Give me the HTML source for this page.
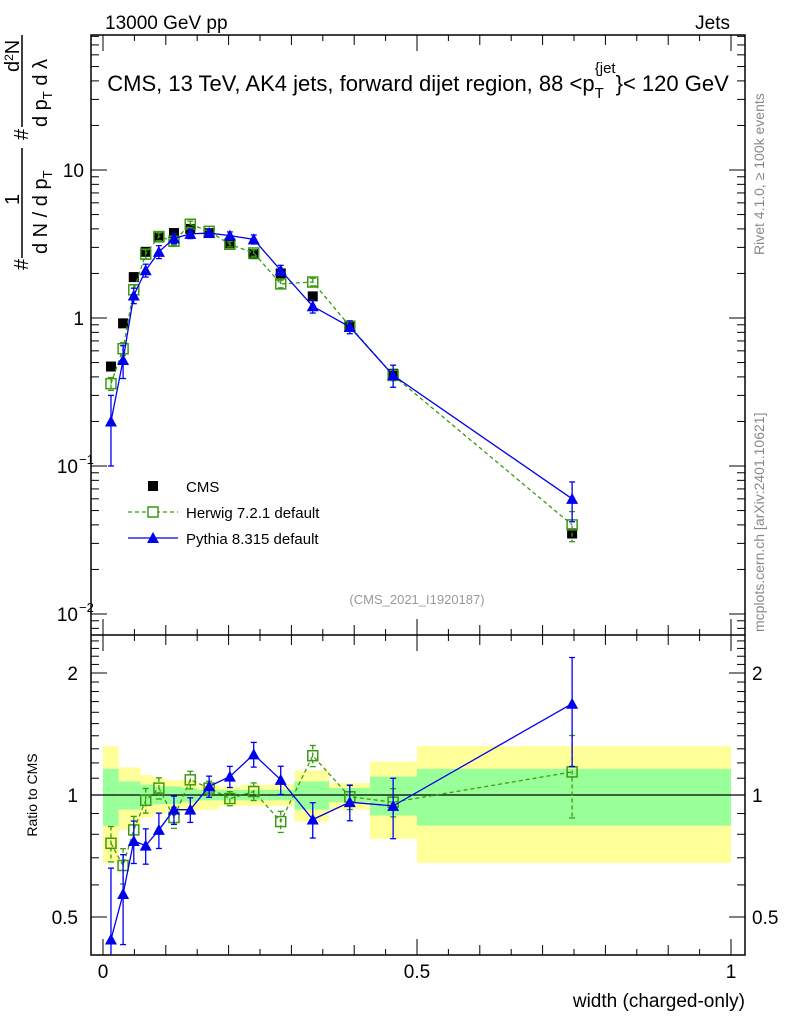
<!DOCTYPE html>
<html><head><meta charset="utf-8"><style>
body{margin:0;background:#fff}
svg{display:block;font-family:"Liberation Sans",sans-serif}
</style></head><body>
<svg id="c" width="786" height="1024" viewBox="0 0 786 1024" xmlns="http://www.w3.org/2000/svg">
<rect width="786" height="1024" fill="#fff"/>
<g id="bands"></g>
<g id="axes"></g>
<g id="marks"></g>
<text x="105" y="29" font-size="19">13000 GeV pp</text>
<text x="730" y="29" font-size="19" text-anchor="end">Jets</text>
<text x="418" y="91" font-size="22" text-anchor="middle">CMS, 13 TeV, AK4 jets, forward dijet region, 88 &lt;p<tspan font-size="15" dy="7">T</tspan><tspan font-size="15" dy="-25" dx="-9">{jet</tspan><tspan dy="18">}&lt; 120 GeV</tspan></text>
<text x="417" y="604" font-size="13" fill="#999" text-anchor="middle">(CMS_2021_I1920187)</text>
<text transform="translate(764,255) rotate(-90)" font-size="14" fill="#888">Rivet 4.1.0, ≥ 100k events</text>
<text transform="translate(764,632) rotate(-90)" font-size="14" fill="#888">mcplots.cern.ch [arXiv:2401.10621]</text>
<g font-size="20">
 <text transform="translate(28,270) rotate(-90)">#</text>
 <text transform="translate(19,205) rotate(-90)">1</text>
 <line x1="22" y1="148" x2="22" y2="258" stroke="#000" stroke-width="1.5"/>
 <text transform="translate(47,254) rotate(-90)">d N / d p<tspan font-size="13" dy="5">T</tspan></text>
 <text transform="translate(28,140) rotate(-90)">#</text>
 <text transform="translate(19,72) rotate(-90)">d<tspan font-size="12" dy="-6">2</tspan><tspan dy="6">N</tspan></text>
 <line x1="22" y1="35" x2="22" y2="127" stroke="#000" stroke-width="1.5"/>
 <text transform="translate(47,127) rotate(-90)">d p<tspan font-size="13" dy="5">T</tspan><tspan dy="-5"> d λ</tspan></text>
</g>
<text transform="translate(37,795) rotate(-90)" font-size="14" text-anchor="middle">Ratio to CMS</text>
<text x="745" y="1007" font-size="19" text-anchor="end">width (charged-only)</text>
<g font-size="15">
 <g><rect x="148" y="481" width="10" height="10" fill="#000"/><text x="186" y="492">CMS</text></g>
 <g><line x1="128" y1="512" x2="178" y2="512" stroke="#3a9a10" stroke-width="1.3" stroke-dasharray="4,3"/><rect x="148" y="507" width="10" height="10" fill="#fff" stroke="#3a9a10" stroke-width="1.5"/><text x="186" y="518">Herwig 7.2.1 default</text></g>
 <g><line x1="128" y1="538" x2="178" y2="538" stroke="#0000ee" stroke-width="1.3"/><path d="M147,543 L153,532 L159,543 Z" fill="#0000ee"/><text x="186" y="544">Pythia 8.315 default</text></g>
</g>
</svg>
<script>
const edges=[0,0.025,0.04,0.06,0.08,0.1,0.125,0.15,0.185,0.22,0.26,0.305,0.36,0.425,0.5,1.0];
const xPts=[0.0127,0.032,0.049,0.068,0.089,0.113,0.139,0.169,0.202,0.24,0.283,0.334,0.393,0.462,0.747];
const cms=[0.47,0.92,1.89,2.8,3.5,3.75,4.0,3.75,3.2,2.7,2.0,1.4,0.88,0.42,0.035];
const herwig=[0.36,0.62,1.55,2.7,3.55,3.3,4.3,3.85,3.15,2.75,1.7,1.75,0.88,0.41,0.040];
const pythia=[0.2,0.52,1.42,2.1,2.8,3.45,3.7,3.75,3.6,3.4,2.1,1.2,0.87,0.41,0.06];
const ratioH=[0.76,0.67,0.82,0.97,1.04,0.88,1.09,1.04,0.98,1.02,0.86,1.25,0.99,0.96,1.14];
const ratioP=[0.44,0.57,0.77,0.75,0.82,0.92,0.92,1.05,1.11,1.26,1.09,0.87,0.96,0.94,1.68];
const errH=[0.1,0.1,0.08,0.07,0.06,0.06,0.05,0.04,0.04,0.05,0.06,0.06,0.07,0.08,0.23];
const errP=[0.5,0.25,0.12,0.1,0.1,0.08,0.07,0.06,0.06,0.07,0.08,0.1,0.1,0.17,0.3];
const yellowHi=[1.32,1.17,1.17,1.12,1.1,1.09,1.09,1.06,1.05,1.06,1.06,1.15,1.07,1.21,1.32];
const yellowLo=[0.68,0.82,0.84,0.88,0.9,0.91,0.91,0.92,0.94,0.94,0.94,0.86,0.92,0.78,0.68];
const greenHi=[1.16,1.08,1.08,1.06,1.05,1.05,1.04,1.03,1.03,1.03,1.03,1.08,1.04,1.11,1.16];
const greenLo=[0.84,0.92,0.92,0.94,0.95,0.95,0.96,0.97,0.97,0.97,0.97,0.92,0.96,0.89,0.84];
const mainTickVals=[0.01,0.1,1,10];
const mainTickLabels=["10","10","1","10"];
const mainTickExp=["−2","−1","",""];
const ratioTickVals=[0.5,1,2];
const ratioTickLabels=["0.5","1","2"];
const xTickVals=[0,0.5,1];
const xTickLabels=["0","0.5","1"];

const L=91,R=745,T=35,M=635,B=955;
const X=v=>103+v*628;
const Y=v=>318-148*Math.log10(v);
const RY=v=>795-122*Math.log2(v);
const NS="http://www.w3.org/2000/svg";
function mk(p,t,a){const e=document.createElementNS(NS,t);for(const k in a)e.setAttribute(k,a[k]);p.appendChild(e);return e;}
const svg=document.getElementById('c');
const bands=document.getElementById('bands'),axes=document.getElementById('axes'),marks=document.getElementById('marks');
const clip=mk(svg,'clipPath',{id:'rc'});mk(clip,'rect',{x:L,y:M,width:R-L,height:B-M});
const clip2=mk(svg,'clipPath',{id:'mc'});mk(clip2,'rect',{x:L,y:T,width:R-L,height:M-T});
bands.setAttribute('clip-path','url(#rc)');
for(let i=0;i<15;i++){
 const x0=X(edges[i]),x1=X(edges[i+1]);
 const y=mk(bands,'rect',{x:x0,y:RY(yellowHi[i]),width:x1-x0,height:RY(yellowLo[i])-RY(yellowHi[i]),fill:'#ffff99'});
 
 
 const g=mk(bands,'rect',{x:x0,y:RY(greenHi[i]),width:x1-x0,height:RY(greenLo[i])-RY(greenHi[i]),fill:'#99ff99'});
 
 
}
mk(axes,'line',{x1:L,y1:RY(1),x2:R,y2:RY(1),stroke:'#000','stroke-width':1.3});
mk(axes,'rect',{x:L,y:T,width:R-L,height:B-T,fill:'none',stroke:'#000','stroke-width':1.5});
mk(axes,'line',{x1:L,y1:M,x2:R,y2:M,stroke:'#000','stroke-width':1.5});
for(let d=-3;d<=1;d++)for(let k=1;k<10;k++){const v=k*Math.pow(10,d),y=Y(v);if(y<T||y>M)continue;const len=k==1?16:8;
 mk(axes,'line',{x1:L,y1:y,x2:L+len,y2:y,stroke:'#000'});mk(axes,'line',{x1:R,y1:y,x2:R-len,y2:y,stroke:'#000'});}
mainTickVals.forEach((v,i)=>{const t=mk(axes,'text',{x:mainTickExp[i]?78:84,y:Y(v)+7,'font-size':19,'text-anchor':'end'});t.textContent=mainTickLabels[i];
 if(mainTickExp[i]){const s=mk(axes,'text',{x:79,y:Y(v)-2,'font-size':13});s.textContent=mainTickExp[i];}
 
 });
[0.4,0.5,0.6,0.7,0.8,0.9,1,1.1,1.2,1.3,1.4,1.5,1.6,1.7,1.8,1.9,2,2.1,2.2,2.3,2.4].forEach(v=>{const y=RY(v);if(y<M||y>B)return;const len=(v==0.5||v==1||v==2)?16:8;
 mk(axes,'line',{x1:L,y1:y,x2:L+len,y2:y,stroke:'#000'});mk(axes,'line',{x1:R,y1:y,x2:R-len,y2:y,stroke:'#000'});});
ratioTickVals.forEach((v,i)=>{const t=mk(axes,'text',{x:78,y:RY(v)+7,'font-size':19,'text-anchor':'end'});t.textContent=ratioTickLabels[i];
 
 
 const t2=mk(axes,'text',{x:752,y:RY(v)+7,'font-size':19});t2.textContent=ratioTickLabels[i];
 
 });
for(let k=0;k<=20;k++){const v=k*0.05,x=X(v);if(x>R)continue;const len=k%10==0?16:(k%2==0?10:6);
 [[B,-1],[M,-1],[M,1],[T,1]].forEach(([y0,s])=>mk(axes,'line',{x1:x,y1:y0,x2:x,y2:y0+s*len,stroke:'#000'}));}
xTickVals.forEach((v,i)=>{const t=mk(axes,'text',{x:X(v),y:978,'font-size':19,'text-anchor':'middle'});t.textContent=xTickLabels[i];
 
 });
function series(vals,err,color,dash,shape,Yf,name,clipId,cmsMode){
 const g=mk(marks,'g',{'clip-path':'url(#'+clipId+')'});
 
 
 if(!cmsMode){
  mk(g,'polyline',{points:vals.map((v,i)=>X(xPts[i])+','+Yf(v)).join(' '),fill:'none',stroke:color,'stroke-width':1.3,'stroke-dasharray':dash});
 }
 vals.forEach((v,i)=>{const x=X(xPts[i]),y=Yf(v);
  if(err){const hi=Yf(v*(1+err[i])),lo=Yf(Math.max(v*(1-err[i]),1e-9));
   mk(g,'line',{x1:x,y1:hi,x2:x,y2:lo,stroke:color,'stroke-width':1.3,'stroke-dasharray':dash});
   mk(g,'line',{x1:x-3,y1:hi,x2:x+3,y2:hi,stroke:color,'stroke-width':1.3});mk(g,'line',{x1:x-3,y1:lo,x2:x+3,y2:lo,stroke:color,'stroke-width':1.3});}
  let m;
  if(shape=='fill')m=mk(g,'rect',{x:x-5,y:y-5,width:10,height:10,fill:'#000'});
  else if(shape=='open')m=mk(g,'rect',{x:x-5,y:y-5,width:10,height:10,fill:'none',stroke:color,'stroke-width':1.5});
  else m=mk(g,'path',{d:'M'+(x-6)+','+(y+5)+' L'+x+','+(y-6)+' L'+(x+6)+','+(y+5)+' Z',fill:color});
  
  
 });
}
series(cms,null,'#000','','fill',Y,'cms-data','mc',true);
series(herwig,errH,'#3a9a10','4,3','open',Y,'herwig-main','mc');
series(pythia,errP,'#0000ee','','tri',Y,'pythia-main','mc');
series(ratioH,errH,'#3a9a10','4,3','open',RY,'herwig-ratio','rc');
series(ratioP,errP,'#0000ee','','tri',RY,'pythia-ratio','rc');
</script>
</body></html>
